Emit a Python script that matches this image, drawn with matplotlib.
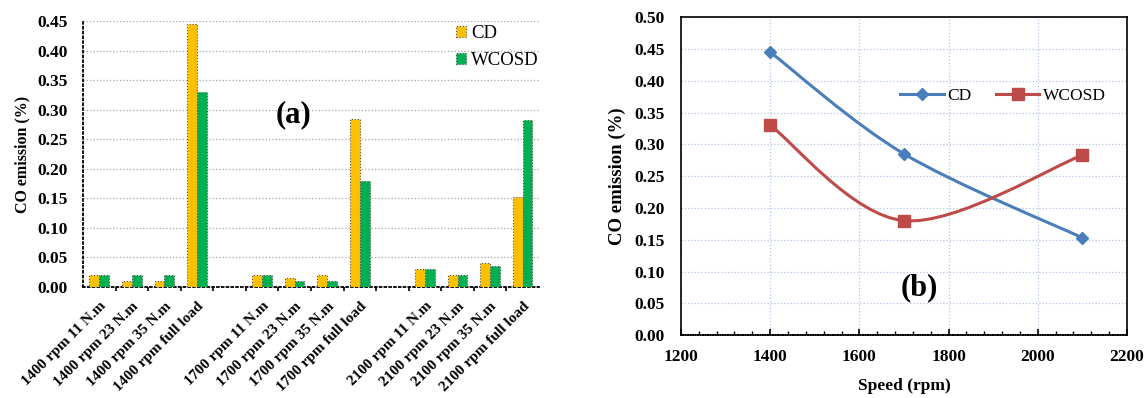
import numpy as np
import matplotlib; matplotlib.use("Agg")
import matplotlib.pyplot as plt
from matplotlib.path import Path
from matplotlib.patches import PathPatch
from matplotlib.ticker import MultipleLocator, FixedLocator

plt.rcParams["font.family"] = ["Liberation Serif", "DejaVu Serif"]

# ----------------------------------------------------------------------------
# data
# ----------------------------------------------------------------------------
conditions = ["1400 rpm 11 N.m", "1400 rpm 23 N.m", "1400 rpm 35 N.m", "1400 rpm full load", "",
              "1700 rpm 11 N.m", "1700 rpm 23 N.m", "1700 rpm 35 N.m", "1700 rpm full load", "",
              "2100 rpm 11 N.m", "2100 rpm 23 N.m", "2100 rpm 35 N.m", "2100 rpm full load"]
co_cd = [0.020, 0.010, 0.010, 0.445, np.nan,
         0.020, 0.015, 0.020, 0.285, np.nan,
         0.030, 0.020, 0.040, 0.153]
co_wcosd = [0.020, 0.020, 0.020, 0.330, np.nan,
            0.020, 0.010, 0.010, 0.180, np.nan,
            0.030, 0.020, 0.035, 0.283]

speed = [1400, 1700, 2100]
full_cd = [0.445, 0.285, 0.153]
full_wcosd = [0.330, 0.180, 0.283]

C_CD = "#FFC000"
C_WC = "#00B050"
L_CD = "#4A7EBB"
L_WC = "#BE4B48"


def smooth_path(xs, ys):
    # excel-style smoothed line: catmull-rom -> cubic bezier segments
    pts = np.column_stack([xs, ys]).astype(float)
    n = len(pts)
    verts = [pts[0]]; codes = [Path.MOVETO]
    for i in range(n - 1):
        p0 = pts[i - 1] if i > 0 else pts[i]
        p1, p2 = pts[i], pts[i + 1]
        p3 = pts[i + 2] if i + 2 < n else pts[i + 1]
        c1 = p1 + (p2 - p0) / 6.0
        c2 = p2 - (p3 - p1) / 6.0
        verts += [c1, c2, p2]; codes += [Path.CURVE4] * 3
    return Path(verts, codes)


fig = plt.figure(figsize=(11.46, 3.98), dpi=100)

# ----------------------------------------------------------------------------
# (a) bar chart
# ----------------------------------------------------------------------------
ax1 = fig.add_axes([0.0724, 0.2789, 0.3979, 0.6683])
x = np.arange(len(conditions))
w = 0.30
ax1.bar(x - w / 2, co_cd, w, color=C_CD, edgecolor="#555555", linestyle=":", lw=0.8, label="CD", zorder=3)
ax1.bar(x + w / 2, co_wcosd, w, color=C_WC, edgecolor="#555555", linestyle=":", lw=0.8, label="WCOSD", zorder=3)
ax1.set_xlim(-0.5, len(conditions) - 0.5)
ax1.set_ylim(0, 0.45)
ax1.set_xticks([i for i, c in enumerate(conditions) if c])
ax1.set_xticklabels([c for c in conditions if c], rotation=45, ha="right", rotation_mode="anchor",
                    fontsize=11, fontweight="bold")
ax1.xaxis.set_minor_locator(FixedLocator(np.arange(0.5, len(conditions) - 0.5, 1)))
ax1.tick_params(axis="x", which="major", length=0, pad=9)
ax1.tick_params(axis="x", which="minor", length=3, direction="out", width=1.2)
ax1.set_yticks(np.arange(0, 0.451, 0.05))
ax1.set_yticklabels([f"{v:.2f}" for v in np.arange(0, 0.451, 0.05)], fontweight="bold")
ax1.tick_params(axis="y", length=0, labelsize=12.5, pad=11)
ax1.grid(axis="y", color="#A6A6A6", ls=":", lw=0.9, zorder=0)
for s in ["top", "right"]:
    ax1.spines[s].set_visible(False)
for s in ["left", "bottom"]:
    ax1.spines[s].set_linestyle(":")
    ax1.spines[s].set_linewidth(1.3)
ax1.set_ylabel("CO emission (%)", fontsize=11.5, fontweight="bold", labelpad=5)
ax1.text(5.97, 0.291, "(a)", fontsize=22, fontweight="bold", ha="center", va="center")
ax1.legend(loc="upper right", frameon=False, fontsize=13.5, labelspacing=0.55,
           handlelength=0.5, handleheight=0.5, handletextpad=0.3, borderpad=0, borderaxespad=0,
           bbox_to_anchor=(1.0, 0.985))

# ----------------------------------------------------------------------------
# (b) full load vs speed
# ----------------------------------------------------------------------------
ax2 = fig.add_axes([0.5942, 0.158, 0.3892, 0.799])
for ys, col, mk, ms, lab in [(full_cd, L_CD, "D", 6.5, "CD"), (full_wcosd, L_WC, "s", 9, "WCOSD")]:
    ax2.add_patch(PathPatch(smooth_path(speed, ys), facecolor="none", edgecolor=col, lw=2.2, zorder=3))
    ax2.plot(speed, ys, ls="none", marker=mk, ms=ms, color=col, zorder=4)
    ax2.plot([], [], color=col, lw=2.2, marker=mk, ms=ms, label=lab)
ax2.set_xlim(1200, 2200)
ax2.set_ylim(0, 0.5)
ax2.xaxis.set_major_locator(MultipleLocator(200))
ax2.xaxis.set_minor_locator(MultipleLocator(40))
ax2.yaxis.set_major_locator(MultipleLocator(0.05))
ax2.set_yticklabels([f"{v:.2f}" for v in ax2.get_yticks()], fontweight="bold")
ax2.set_xticklabels([f"{int(v)}" for v in ax2.get_xticks()], fontweight="bold")
ax2.tick_params(axis="both", which="major", labelsize=12.5, length=4, direction="in", width=1.2)
ax2.tick_params(axis="x", which="major", pad=10)
ax2.tick_params(axis="x", which="minor", length=3, direction="in", width=1)
ax2.tick_params(axis="y", which="major", length=0, pad=12)
ax2.grid(color="#B4C7E7", ls=":", lw=0.9, zorder=0)
for s in ax2.spines.values():
    s.set_linewidth(1.2)
ax2.spines["bottom"].set_linestyle((0, (1, 0.5)))
ax2.set_xlabel("Speed (rpm)", fontsize=12.5, fontweight="bold", labelpad=9)
ax2.set_ylabel("CO emission (%)", fontsize=13.5, fontweight="bold", labelpad=6)
ax2.text(1735, 0.075, "(b)", fontsize=22, fontweight="bold", ha="center", va="center")
ax2.legend(loc="center left", ncol=2, frameon=False, fontsize=12.5, handlelength=2.5,
           handletextpad=0.2, columnspacing=1.4, borderpad=0, borderaxespad=0,
           bbox_to_anchor=(0.492, 0.752))

plt.savefig("out.png", dpi=100)
